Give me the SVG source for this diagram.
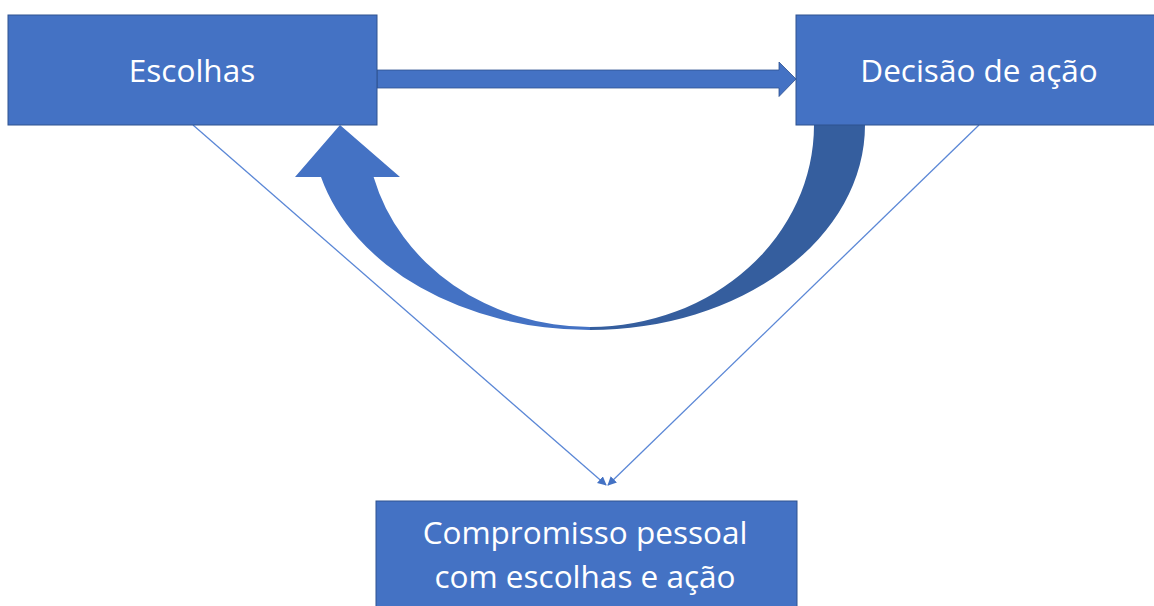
<svg xmlns="http://www.w3.org/2000/svg" width="1154" height="606" viewBox="0 0 1154 606">
<style>
.box{fill:#4472C4;stroke:#2F528F;stroke-width:1}
.lbl{font-family:"Open Sans","Noto Sans","Liberation Sans",sans-serif;font-size:31.5px;fill:#FFFFFF;text-anchor:middle}
.thin{fill:none;stroke:#5B87D6;stroke-width:1.3}
</style>
<defs>
<marker id="tip" viewBox="0 0 10 10" refX="9" refY="5" markerWidth="9" markerHeight="9" orient="auto" markerUnits="userSpaceOnUse">
<path d="M0,0 L10,5 L0,10 Z" fill="#4472C4"/>
</marker>
</defs>
<rect width="1154" height="606" fill="#FFFFFF"/>
<g id="connectors">
<line class="thin" x1="193" y1="125" x2="606" y2="485" marker-end="url(#tip)"/>
<line class="thin" x1="979" y1="125" x2="608" y2="485" marker-end="url(#tip)"/>
<path d="M377,70 L779,70 L779,62 L796,79 L779,96.5 L779,88 L377,88 Z" fill="#4472C4" stroke="#2F528F" stroke-width="0.8"/>
<path d="M865,125 A275,205 0 0 1 590,330 L590,327 A224,202 0 0 0 814,125 Z" fill="#355E9E"/>
<path d="M590,330 A278,205 0 0 1 321,177 L295,177 L340,125 L400,177 L373.6,177 A224,202 0 0 0 590,327 Z" fill="#4472C4"/>
</g>
<g id="escolhas">
<rect class="box" x="8" y="15" width="369" height="110"/>
<text class="lbl" x="192" y="82">Escolhas</text>
</g>
<g id="decisao">
<rect class="box" x="796" y="15" width="370" height="110"/>
<text class="lbl" x="979" y="82">Decisão de ação</text>
</g>
<g id="compromisso">
<rect class="box" x="376" y="501" width="421" height="120"/>
<text class="lbl" x="585" y="544">Compromisso pessoal</text>
<text class="lbl" x="585" y="588">com escolhas e ação</text>
</g>
</svg>
